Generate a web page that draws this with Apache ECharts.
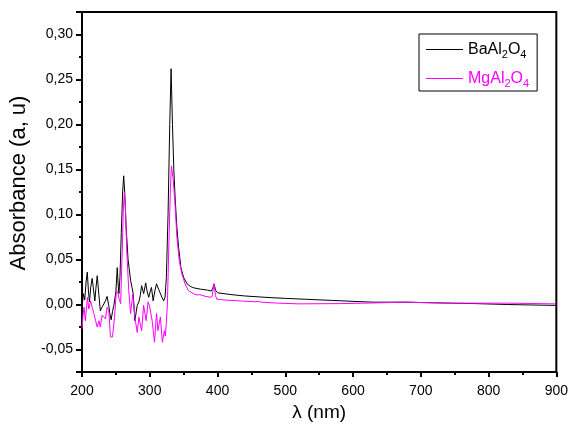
<!DOCTYPE html>
<html>
<head>
<meta charset="utf-8">
<script src="https://cdn.jsdelivr.net/npm/echarts@6/dist/echarts.min.js"></script>
<style>html,body{margin:0;padding:0;background:#fff;}#c{width:571px;height:430px;}</style>
</head>
<body>
<div id="c"></div>
<script>
var baWl = [200,202,204,206,207.8,209.5,211,213,215,217.6,219,220.5,222.5,225,227,229.5,232,234.7,237,239.5,241,243,245,247,250,252,253.5,254.5,256,258,260,261.5,263,265,268,271.7,273.5,275.6,278,281.5,284,286,288,291,294,296,298.5,300.5,302.5,305,307.5,310,313,315.7,318,320.5,322.5,324.5,327,329.5,331.5,333.5,335.5,337.6,340,342.5,346,350,355,360,365,375,385,391,393,395,397,400,420,440,470,500,530,570,600,630,680,710,745,780,828,860,900];
var baAbs = [-0.005,0.012,0.005,0.025,0.036,0.015,0.003,0.02,0.029,0.030,0.004,0.018,0.032,0.01,-0.007,-0.003,-0.005,0.004,0.009,-0.001,-0.01,-0.017,-0.008,-0.001,0.014,0.041,0.02,0.012,0.03,0.08,0.125,0.143,0.125,0.088,0.05,0.027,0.02,0.012,-0.018,-0.001,0.003,0.01,0.021,0.012,0.024,0.015,0.008,0.014,0.019,0.004,0.015,0.023,0.017,0.019,0.008,0.004,0.008,0.03,0.1,0.2,0.262,0.2,0.15,0.116,0.086,0.064,0.041,0.030,0.023,0.020,0.0185,0.017,0.016,0.015,0.018,0.023,0.016,0.013,0.011,0.0095,0.008,0.0068,0.0058,0.0045,0.0035,0.0026,0.0026,0.002,0.0015,0.001,0.0,-0.0005,-0.001];
var mgWl = [200,201.5,203,205,208,210,212.7,215,217.6,220,222.5,225,227,229.7,232,234.7,237,239.5,242,245,248,250.8,253,254.6,257,259,261,262.5,264,266,269,271.7,275,278,281.5,284,288,291,294.7,297.6,300,303.5,307,310,312,315.7,318.6,321.5,323,324.5,326,328.5,330.5,332,334.5,337.6,340,343.5,347.4,352,357,364.5,370,374,380,389,392,395,397,399,410,433,455,460,465,490,520,580,618,677,710,745,828,898];
var mgAbs = [-0.027,-0.012,-0.003,-0.018,0.008,-0.005,0.004,-0.003,-0.010,-0.018,-0.025,-0.018,-0.025,-0.012,-0.010,-0.016,-0.003,-0.007,-0.036,-0.036,-0.014,0.0155,0.013,0.007,0.001,0.05,0.105,0.125,0.11,0.06,0.0155,-0.010,0.012,-0.014,-0.031,-0.014,-0.029,-0.001,-0.018,0.003,-0.003,-0.018,-0.042,-0.010,-0.029,-0.014,-0.042,-0.029,-0.035,-0.02,0.0,0.075,0.13,0.154,0.14,0.108,0.075,0.049,0.034,0.023,0.0155,0.012,0.0105,0.011,0.0095,0.008,0.009,0.023,0.01,0.006,0.005,0.004,0.003,0.0035,0.0025,0.0015,0.0007,0.001,0.0015,0.0026,0.002,0.0015,0.0015,0.0007];
var seriesNames = ['BaAl2O4', 'MgAl2O4'];
var xTicks = [200,300,400,500,600,700,800,900];
var yTicks = [-0.05,0,0.05,0.1,0.15,0.2,0.25,0.3];

function pairs(xs, ys){ return xs.map(function(x,i){ return [x, ys[i]]; }); }

var chart = echarts.init(document.getElementById('c'), null, {renderer:'canvas'});
var font = 'Liberation Sans, Arial, sans-serif';
chart.setOption({
  animation: false,
  backgroundColor: '#fff',
  grid: {left: 81, right: 12, top: 12, bottom: 58, show: true, borderColor: '#000', borderWidth: 2, backgroundColor: 'transparent'},
  legend: {
    data: seriesNames,
    orient: 'vertical',
    left: 419, top: 34,
    padding: [5, 8, 2, 7],
    itemGap: 8,
    itemWidth: 37, itemHeight: 1.2,
    icon: 'rect',
    borderColor: '#000', borderWidth: 1, borderRadius: 0,
    formatter: function(n){
      return n === 'BaAl2O4' ? '{k|BaAl}{ks|2}{k|O}{ks|4}' : '{m|MgAl}{ms|2}{m|O}{ms|4}';
    },
    textStyle: {
      fontFamily: font,
      rich: {
        k: {fontSize: 16, color: '#000', fontFamily: font, lineHeight: 20},
        ks: {fontSize: 11, color: '#000', fontFamily: font, lineHeight: 20, padding: [10,0,0,0]},
        m: {fontSize: 16, color: '#ff00ff', fontFamily: font, lineHeight: 20},
        ms: {fontSize: 11, color: '#ff00ff', fontFamily: font, lineHeight: 20, padding: [10,0,0,0]}
      }
    }
  },
  xAxis: {
    type: 'value', min: 200, max: 900, interval: 100,
    name: 'λ (nm)', nameLocation: 'middle', nameGap: 30,
    nameTextStyle: {fontFamily: font, fontSize: 19, color: '#000'},
    axisLine: {onZero: false, lineStyle: {color: '#000', width: 2}},
    axisTick: {show: true, inside: false, length: 5, lineStyle: {color: '#000', width: 2}},
    minorTick: {show: true, splitNumber: 2, length: 3, lineStyle: {color: '#000', width: 2}},
    splitLine: {show: false},
    axisLabel: {fontFamily: font, fontSize: 14, color: '#000', margin: 12,
      formatter: function(v){ return xTicks.indexOf(v) >= 0 ? String(v) : ''; }}
  },
  yAxis: {
    type: 'value', min: -0.075, max: 0.325, splitNumber: 8,
    name: 'Absorbance (a, u)', nameLocation: 'middle', nameGap: 52,
    nameTextStyle: {fontFamily: font, fontSize: 22, color: '#000', padding: [0, 0, 0, 18]},
    axisLine: {onZero: false, lineStyle: {color: '#000', width: 2}},
    axisTick: {show: true, inside: false, length: 6, lineStyle: {color: '#000', width: 2}},
    minorTick: {show: true, splitNumber: 2, length: 3, lineStyle: {color: '#000', width: 2}},
    splitLine: {show: false},
    axisLabel: {fontFamily: font, fontSize: 14, color: '#000', margin: 9,
      formatter: function(v){
        for (var i = 0; i < yTicks.length; i++) {
          if (Math.abs(yTicks[i] - v) < 1e-9) return yTicks[i].toFixed(2).replace('.', ',');
        }
        return '';
      }}
  },
  series: [
    {name: seriesNames[0], type: 'line', data: pairs(baWl, baAbs), symbol: 'none', showSymbol: false,
     lineStyle: {color: '#000', width: 1}, itemStyle: {color: '#000'}},
    {name: seriesNames[1], type: 'line', data: pairs(mgWl, mgAbs), symbol: 'none', showSymbol: false,
     lineStyle: {color: '#ff00ff', width: 1}, itemStyle: {color: '#ff00ff'}}
  ]
});
</script>
</body>
</html>
